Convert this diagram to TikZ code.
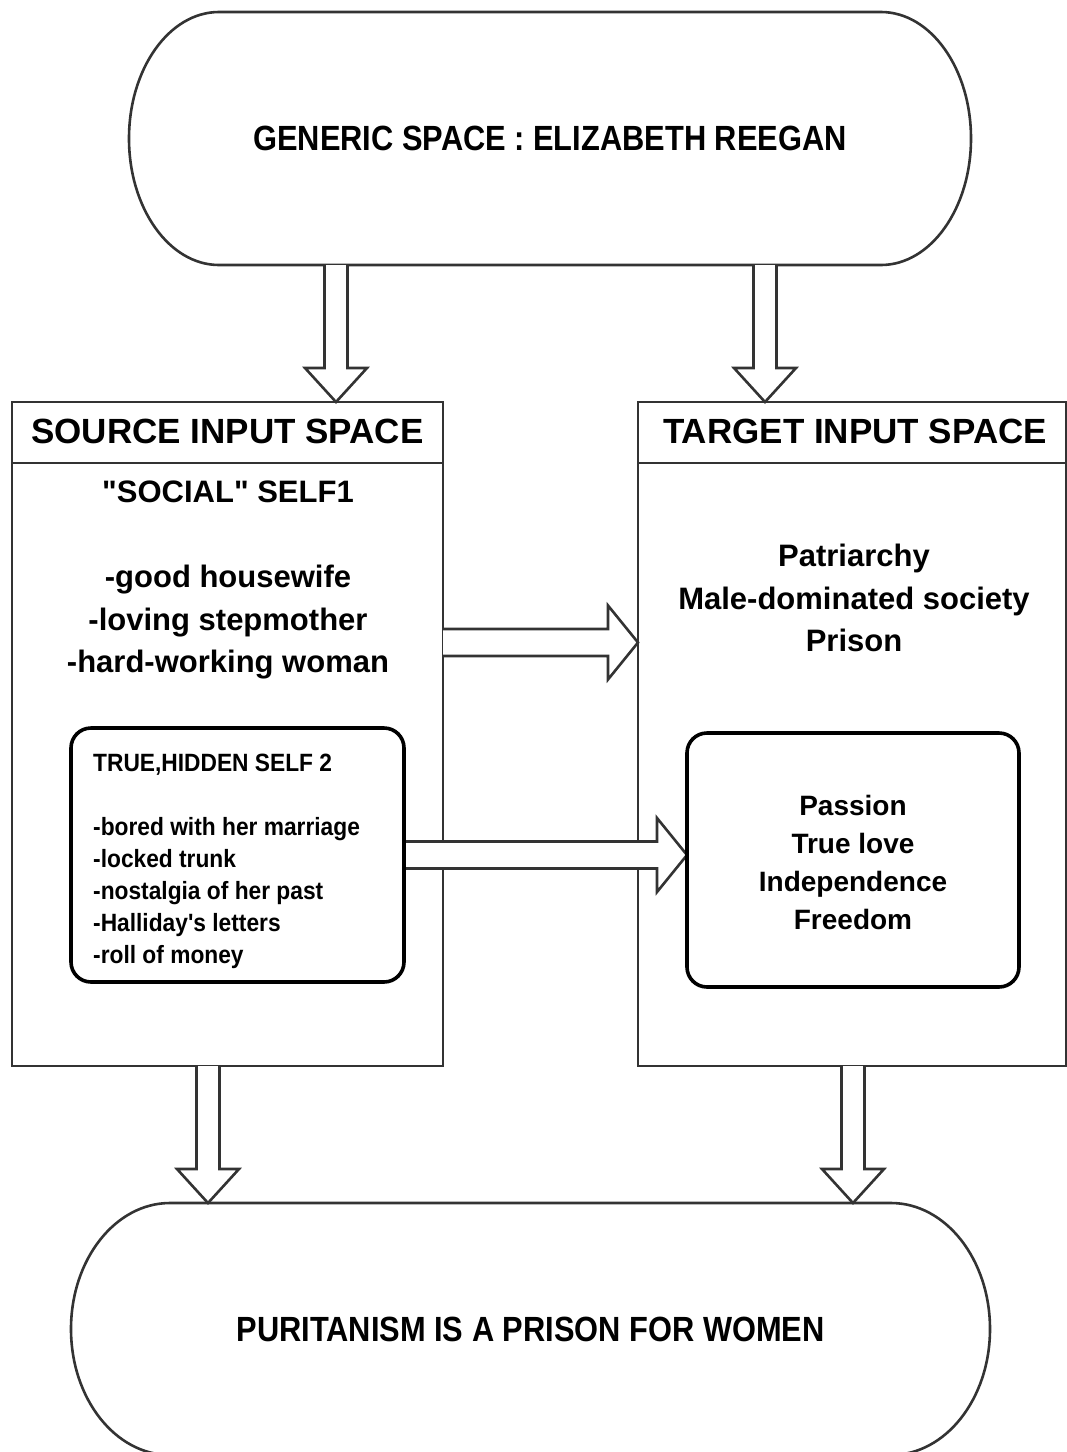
\documentclass[tikz,border=0pt]{standalone}
\usepackage{fontspec}
\setmainfont{Liberation Sans}
\newfontfamily\condfont{Liberation Sans}[FakeStretch=0.88]
\newfontfamily\listfont{Liberation Sans}[FakeStretch=0.91]
\usetikzlibrary{calc}
\definecolor{ln}{HTML}{333333}

\tikzset{
  frame/.style={draw=ln, line width=2.6pt},
  innerline/.style={draw=black, line width=3.6pt, rounded corners=20pt},
  blk/.style={draw=ln, line width=2.6pt, fill=white, line join=miter},
  place/.style={inner sep=0pt, outer sep=0pt},
  bigtext/.style={font=\condfont\bfseries\fontsize{35}{42}\selectfont},
  titletext/.style={font=\bfseries\fontsize{35}{42}\selectfont},
  listtext/.style={align=center, font=\bfseries\fontsize{31}{42.5}\selectfont},
}

% straight double quote, set as a glyph so no text mapping curls it
\newcommand\sq{\XeTeXglyph\XeTeXglyphindex "quotedbl" \relax}
\newcommand\ap{\symbol{39}}

% capsule outline around a rectangular node: flat top and bottom, elliptical ends
\newcommand\capsuleoutline[3]{%
  \draw[frame] ([xshift=#2]#1.north west) -- ([xshift=-#2]#1.north east)
    arc[start angle=90, end angle=-90, x radius=#2, y radius=#3]
    -- ([xshift=#2]#1.south west)
    arc[start angle=270, end angle=90, x radius=#2, y radius=#3] -- cycle;}

% hollow block arrow pointing down, from #1 to the tip #2
\newcommand\downblk[2]{%
  \draw[blk] let \p1=#1, \p2=#2 in
    (\x1-11.5pt,\y1) -- (\x1-11.5pt,\y2+34pt) -- (\x1-31pt,\y2+34pt) -- (\x1,\y2)
    -- (\x1+31pt,\y2+34pt) -- (\x1+11.5pt,\y2+34pt) -- (\x1+11.5pt,\y1);}

% hollow block arrow pointing right, from #1 to the tip #2
\newcommand\rightblk[2]{%
  \draw[blk] let \p1=#1, \p2=#2 in
    (\x1,\y1+13.5pt) -- (\x2-30pt,\y1+13.5pt) -- (\x2-30pt,\y1+37pt) -- (\x2,\y1)
    -- (\x2-30pt,\y1-37pt) -- (\x2-30pt,\y1-13.5pt) -- (\x1,\y1-13.5pt);}

\begin{document}
\begin{tikzpicture}[x=1pt,y=-1pt]
\useasboundingbox (0,0) rectangle (1067,1452);

% generic space
\node[place, minimum width=842pt, minimum height=253pt, bigtext] (gen) at (550,138.5)
  {GENERIC SPACE : ELIZABETH REEGAN};
\capsuleoutline{gen}{90pt}{126.5pt}

% input spaces
\node[place, frame, minimum width=431pt, minimum height=664pt] (src) at (227.5,734) {};
\node[place, frame, minimum width=428pt, minimum height=664pt] (tgt) at (852,734) {};
\draw[frame] ([yshift=-61pt]src.north west) -- ([yshift=-61pt]src.north east);
\draw[frame] ([yshift=-61pt]tgt.north west) -- ([yshift=-61pt]tgt.north east);
\node[titletext] (srct) at (227.5,431.5) {SOURCE INPUT SPACE};
\node[titletext] (tgtt) at (855,431.5) {TARGET INPUT SPACE};

\node[listtext] (social) at (228,580)
  {\sq SOCIAL\sq{} SELF1\\ \mbox{}\\ -good housewife\\ -loving stepmother\\ -hard-working woman};
\node[listtext] (patr) at (854,598) {Patriarchy\\ Male-dominated society\\ Prison};

% inner boxes
\node[place, minimum width=333pt, minimum height=254pt] (hid) at (237.5,855) {};
\node[place, minimum width=332pt, minimum height=254pt] (free) at (853,860) {};

% blend result
\node[place, minimum width=919pt, minimum height=252pt, bigtext] (res) at (530.5,1329)
  {PURITANISM IS A PRISON FOR WOMEN};
\capsuleoutline{res}{99pt}{126pt}

% arrow lanes
\coordinate (vL) at (336,0);
\coordinate (vR) at (765,0);
\coordinate (hA) at (0,642.5);
\coordinate (bL) at (208,0);
\coordinate (bR) at (853,0);

\downblk{(gen.south -| vL)}{(src.north -| vL)}
\downblk{(gen.south -| vR)}{(tgt.north -| vR)}
\rightblk{(src.east |- hA)}{(tgt.west |- hA)}
\rightblk{(hid.east)}{(free.west |- hid.east)}
\downblk{(src.south -| bL)}{(res.north -| bL)}
\downblk{(tgt.south -| bR)}{(res.north -| bR)}

% inner box outlines and texts
\draw[innerline] (hid.south west) rectangle (hid.north east);
\draw[innerline] (free.south west) rectangle (free.north east);
\node[anchor=west, align=left, inner sep=0pt, font=\listfont\bfseries\fontsize{25}{32}\selectfont] (hidt) at (93,861)
  {TRUE,HIDDEN SELF 2\\ \mbox{}\\ -bored with her marriage\\ -locked trunk\\ -nostalgia of her past\\ -Halliday\ap s letters\\ -roll of money};
\node[align=center, font=\bfseries\fontsize{28}{38}\selectfont] (freet) at ([yshift=-2pt]free.center)
  {Passion\\ True love\\ Independence\\ Freedom};
\end{tikzpicture}
\end{document}
